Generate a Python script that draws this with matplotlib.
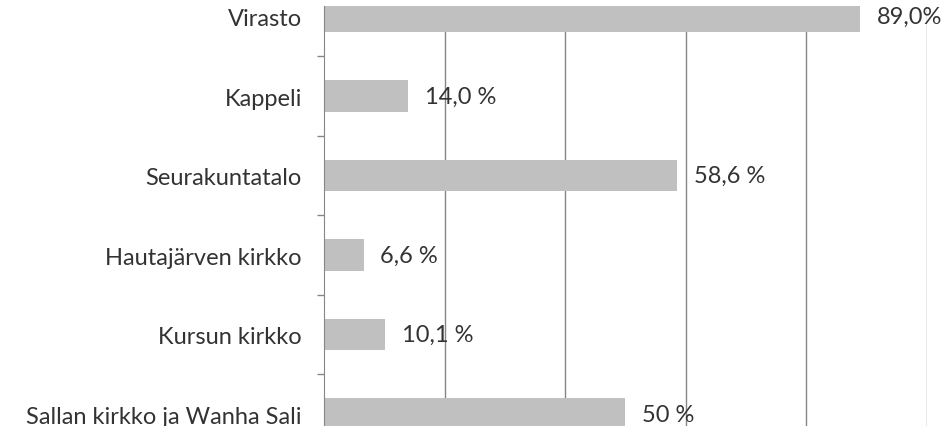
import matplotlib
matplotlib.use("Agg")
import matplotlib.pyplot as plt
import numpy as np

categories = ["Virasto", "Kappeli", "Seurakuntatalo", "Hautajärven kirkko",
              "Kursun kirkko", "Sallan kirkko ja Wanha Sali"]
values = [89.0, 14.0, 58.6, 6.6, 10.1, 50]
value_labels = ["89,0%", "14,0 %", "58,6 %", "6,6 %", "10,1 %", "50 %"]

plt.rcParams['font.family'] = ['Lato', 'DejaVu Sans']

fig = plt.figure(figsize=(9.52, 4.27), dpi=100)
ax = fig.add_axes([324 / 952, 0, (926.5 - 324) / 952, (427 - 7) / 427])

y = np.arange(len(categories))
ax.barh(y, values, height=0.40, color="#c0c0c0", zorder=2)

ax.set_xlim(0, 100)
ax.set_ylim(5.15, -0.132)

ax.set_xticks([20, 40, 60, 80, 100])
ax.xaxis.grid(True, color="#868686", linewidth=1, zorder=1)
ax.tick_params(axis="x", length=0, labelbottom=False)

ax.set_yticks(y)
ax.set_yticklabels(categories, fontsize=17, color="#333333")
ax.set_yticks(np.arange(0.5, len(categories) - 0.5, 1), minor=True)
ax.tick_params(axis="y", which="major", length=0, pad=16)
ax.tick_params(axis="y", which="minor", length=5, color="#868686", width=1)

for s in ["top", "right", "bottom"]:
    ax.spines[s].set_visible(False)
ax.spines["left"].set_color("#868686")
ax.set_axisbelow(True)

for yi, v, lab in zip(y, values, value_labels):
    ax.annotate(lab, (v, yi), xytext=(12, 0), textcoords="offset points",
                va="center", ha="left", fontsize=17, color="#333333",
                annotation_clip=False)

fig.savefig("out.png", dpi=100)
